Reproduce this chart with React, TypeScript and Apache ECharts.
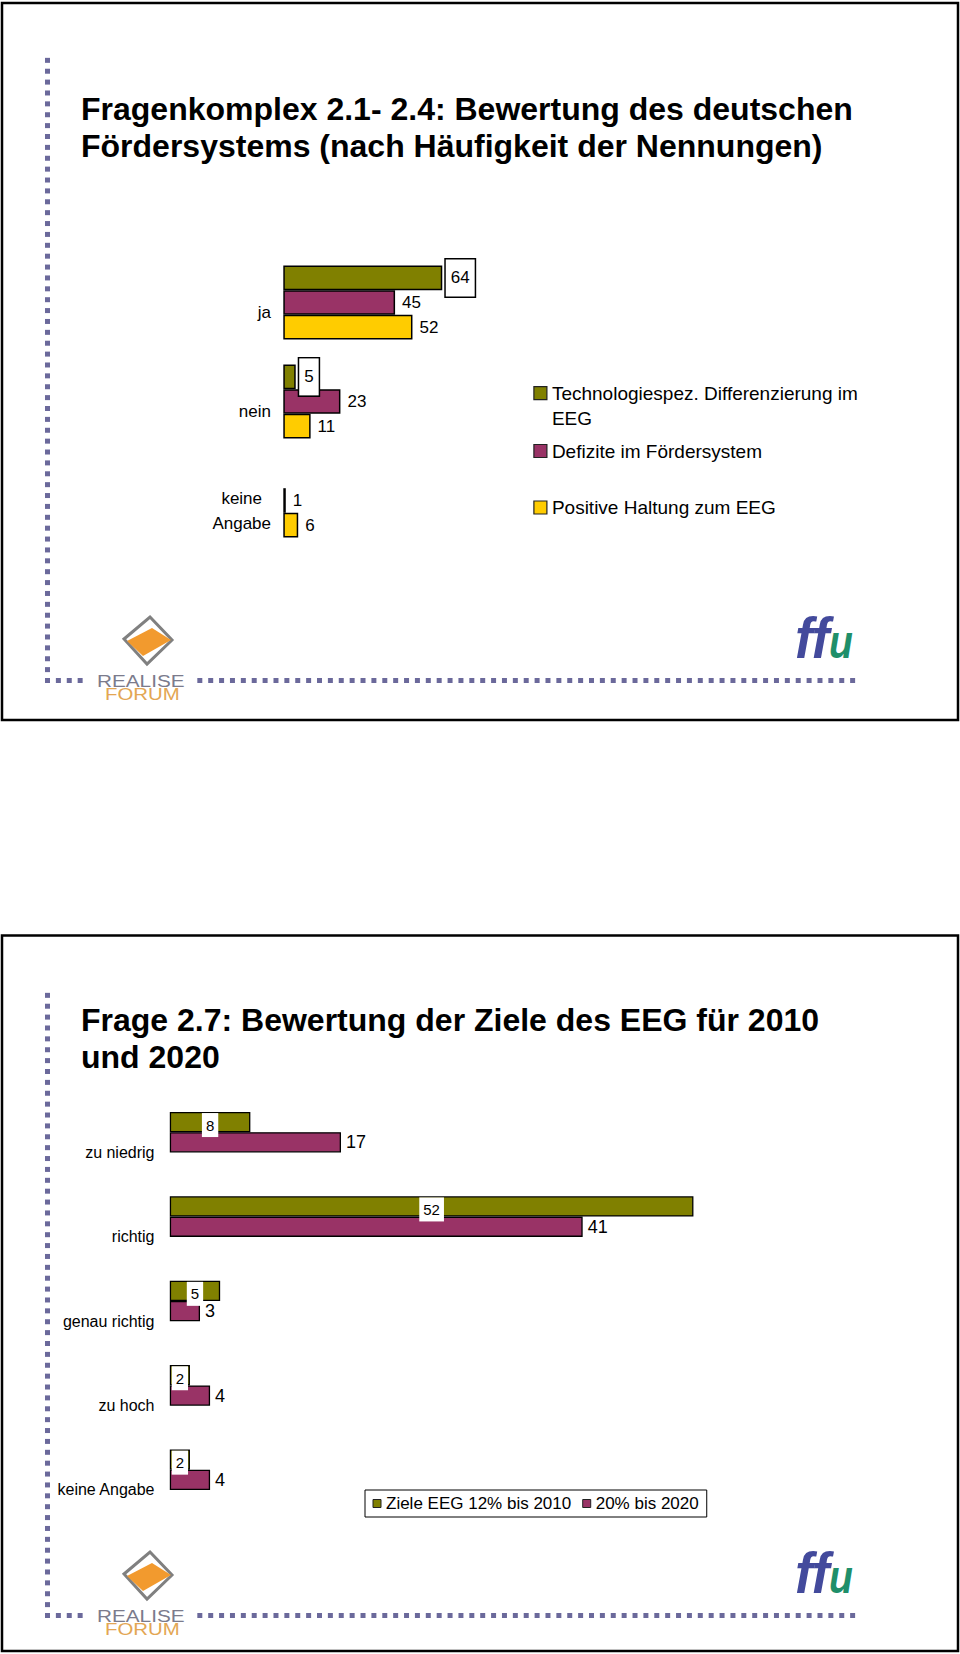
import React, { useEffect, useRef } from 'react';
import * as echarts from 'echarts';

const FONT = '"Liberation Sans", Arial, Helvetica, sans-serif';
const OLIVE = '#808000';
const PLUM = '#993366';
const GOLD = '#FFCC00';
const DOT = '#6b699b';

const topTitle = 'Fragenkomplex 2.1- 2.4: Bewertung des deutschen\nFördersystems (nach Häufigkeit der Nennungen)';
const bottomTitle = 'Frage 2.7: Bewertung der Ziele des EEG für 2010\nund 2020';

// Top chart data
const topCategories = ['ja', 'nein', 'keine Angabe'];
const topSeriesNames = [
  'Technologiespez. Differenzierung im EEG',
  'Defizite im Fördersystem',
  'Positive Haltung zum EEG',
];
const topTechDiff = [64, 5, 0];
const topDefizite = [45, 23, 1];
const topPositiv = [52, 11, 6];

// Bottom chart data
const bottomCategories = ['zu niedrig', 'richtig', 'genau richtig', 'zu hoch', 'keine Angabe'];
const bottomSeriesNames = ['Ziele EEG 12% bis 2010', '20% bis 2020'];
const ziele2010 = [8, 52, 5, 2, 2];
const ziele2020 = [17, 41, 3, 4, 4];

function dots(oy: number) {
  const out: any[] = [];
  const step = 10.88;
  for (let i = 0; i <= 57; i++) {
    out.push({ type: 'rect', shape: { x: 45, y: 678 + oy - step * i, width: 5, height: 5 }, style: { fill: DOT } });
  }
  for (let j = 1; j <= 74; j++) {
    const x = 45 + step * j;
    if (x > 86 && x < 190) continue;
    out.push({ type: 'rect', shape: { x, y: 678 + oy, width: 5, height: 5 }, style: { fill: DOT } });
  }
  return out;
}

function logos(oy: number) {
  return [
    {
      type: 'polygon',
      shape: { points: [[150, 617 + oy], [172, 640 + oy], [147, 664 + oy], [124, 639 + oy]] },
      style: { fill: 'none', stroke: '#808080', lineWidth: 3 },
    },
    {
      type: 'polygon',
      shape: { points: [[127, 641 + oy], [152, 628 + oy], [171, 640 + oy], [143, 656 + oy]] },
      style: { fill: '#F29A2E' },
    },
    {
      type: 'text', x: 97, y: 681 + oy, scaleX: 1.22,
      style: { text: 'REALISE', fill: '#7b7b8c', fontSize: 17, fontFamily: FONT, verticalAlign: 'middle' },
    },
    {
      type: 'text', x: 105, y: 694 + oy, scaleX: 1.2,
      style: { text: 'FORUM', fill: '#E3A653', fontSize: 17, fontFamily: FONT, verticalAlign: 'middle' },
    },
    {
      type: 'text', x: 795, y: 638 + oy, scaleX: 0.92,
      style: { text: 'ff', fill: '#434a9c', fontSize: 58, fontWeight: 'bold', fontStyle: 'italic', fontFamily: FONT, verticalAlign: 'middle' },
    },
    {
      type: 'text', x: 829, y: 642 + oy, scaleX: 0.85,
      style: { text: 'u', fill: '#1f8f6a', fontSize: 46, fontWeight: 'bold', fontStyle: 'italic', fontFamily: FONT, verticalAlign: 'middle' },
    },
  ];
}

const frames = [
  { type: 'rect', shape: { x: 2, y: 3, width: 956, height: 717 }, style: { fill: 'none', stroke: '#000', lineWidth: 2.5 } },
  { type: 'rect', shape: { x: 2, y: 935.5, width: 956, height: 715.5 }, style: { fill: 'none', stroke: '#000', lineWidth: 2.5 } },
];

const barBorder = { borderColor: '#000', borderWidth: 1.5 };
const plainLabel = (size: number, dist: number) => ({
  show: true, position: 'right', distance: dist, fontSize: size, color: '#000', fontFamily: FONT,
});

const option: any = {
  animation: false,
  backgroundColor: '#fff',
  title: [
    {
      text: topTitle, left: 81, top: 89.75, padding: 0,
      textStyle: { fontFamily: FONT, fontSize: 32, fontWeight: 'bold', color: '#000', lineHeight: 37.5 },
    },
    {
      text: bottomTitle, left: 81, top: 1001, padding: 0,
      textStyle: { fontFamily: FONT, fontSize: 32, fontWeight: 'bold', color: '#000', lineHeight: 37.5 },
    },
  ],
  grid: [
    { left: 283.3, top: 253, width: 248.4, height: 297 },
    { left: 169.8, top: 1090, width: 604.2, height: 422 },
  ],
  xAxis: [
    { gridIndex: 0, type: 'value', min: 0, max: 100, show: false },
    { gridIndex: 1, type: 'value', min: 0, max: 60, show: false },
  ],
  yAxis: [
    {
      gridIndex: 0, type: 'category', data: topCategories, inverse: true,
      axisLine: { show: false }, axisTick: { show: false }, splitLine: { show: false },
      axisLabel: {
        margin: 12.3,
        padding: [20, 0, 0, 0],
        formatter: (v: string) => v.split(' ').map((s) => `{c|${s}}`).join('\n'),
        rich: { c: { fontSize: 17, lineHeight: 25, align: 'center', fontFamily: FONT, color: '#000' } },
      },
    },
    {
      gridIndex: 1, type: 'category', data: bottomCategories, inverse: true,
      axisLine: { show: false }, axisTick: { show: false }, splitLine: { show: false },
      axisLabel: {
        margin: 15.3,
        padding: [40, 0, 0, 0],
        formatter: (v: string) => `{c|${v}}`,
        rich: { c: { fontSize: 16, lineHeight: 20, fontFamily: FONT, color: '#000' } },
      },
    },
  ],
  legend: [
    {
      data: [topSeriesNames[0]], left: 533.3, top: 355.7, orient: 'vertical', padding: 0,
      itemWidth: 13, itemHeight: 13, icon: 'rect', selectedMode: false,
      itemStyle: { borderWidth: 1.2, borderColor: '#222' },
      formatter: (n: string) => '\n' + n.replace(' im EEG', ' im\nEEG'),
      textStyle: { fontSize: 19, lineHeight: 25, color: '#000', fontFamily: FONT },
    },
    {
      data: [topSeriesNames[1]], left: 533.3, top: 438.5, orient: 'vertical', padding: 0,
      itemWidth: 13, itemHeight: 13, icon: 'rect', selectedMode: false,
      itemStyle: { borderWidth: 1.2, borderColor: '#222' },
      textStyle: { fontSize: 19, lineHeight: 25, color: '#000', fontFamily: FONT },
    },
    {
      data: [topSeriesNames[2]], left: 533.3, top: 495, orient: 'vertical', padding: 0,
      itemWidth: 13, itemHeight: 13, icon: 'rect', selectedMode: false,
      itemStyle: { borderWidth: 1.2, borderColor: '#222' },
      textStyle: { fontSize: 19, lineHeight: 25, color: '#000', fontFamily: FONT },
    },
    {
      data: bottomSeriesNames, left: 365, top: 1490, orient: 'horizontal', padding: [5, 8, 5, 7.5],
      itemGap: 11, itemWidth: 8, itemHeight: 8, icon: 'rect', selectedMode: false,
      borderColor: '#000', borderWidth: 1, backgroundColor: '#fff',
      itemStyle: { borderWidth: 1, borderColor: '#222' },
      textStyle: { fontSize: 17, color: '#000', fontFamily: FONT },
    },
  ],
  series: [
    {
      name: topSeriesNames[0], type: 'bar', xAxisIndex: 0, yAxisIndex: 0,
      data: topTechDiff.map((v) => (v === 0 ? null : v)),
      barWidth: 24.6, barGap: '0%',
      itemStyle: { color: OLIVE, ...barBorder },
      label: {
        show: true, position: 'right', distance: 3.5, fontSize: 17, color: '#000', fontFamily: FONT,
        backgroundColor: '#fff', borderColor: '#000', borderWidth: 1.5, padding: [10, 5],
      },
    },
    {
      name: topSeriesNames[1], type: 'bar', xAxisIndex: 0, yAxisIndex: 0,
      data: topDefizite, barWidth: 24.6, barGap: '0%',
      itemStyle: { color: PLUM, ...barBorder },
      label: plainLabel(17, 7),
    },
    {
      name: topSeriesNames[2], type: 'bar', xAxisIndex: 0, yAxisIndex: 0,
      data: topPositiv, barWidth: 24.6, barGap: '0%',
      itemStyle: { color: GOLD, ...barBorder },
      label: plainLabel(17, 7),
    },
    {
      name: bottomSeriesNames[0], type: 'bar', xAxisIndex: 1, yAxisIndex: 1,
      data: ziele2010, barWidth: 20.3, barGap: '0%',
      itemStyle: { color: OLIVE, borderColor: '#000', borderWidth: 1.3 },
      label: {
        show: true, position: 'inside', offset: [0, 3], fontSize: 15, color: '#000', fontFamily: FONT,
        backgroundColor: '#fff', padding: [1, 4, 8, 4],
      },
    },
    {
      name: bottomSeriesNames[1], type: 'bar', xAxisIndex: 1, yAxisIndex: 1,
      data: ziele2020, barWidth: 20.3, barGap: '0%',
      itemStyle: { color: PLUM, borderColor: '#000', borderWidth: 1.3 },
      label: plainLabel(18, 5),
    },
  ],
  graphic: {
    elements: [...frames, ...dots(0), ...dots(935), ...logos(0), ...logos(935)],
  },
};

export default function App() {
  const ref = useRef<HTMLDivElement>(null);
  useEffect(() => {
    const chart = echarts.init(ref.current as HTMLDivElement, undefined, { renderer: 'svg', width: 960, height: 1654 });
    chart.setOption(option);
    return () => chart.dispose();
  }, []);
  return (
    <div
      ref={ref}
      style={{ position: 'absolute', left: 0, top: 0, width: 960, height: 1654, background: '#fff' }}
    />
  );
}
